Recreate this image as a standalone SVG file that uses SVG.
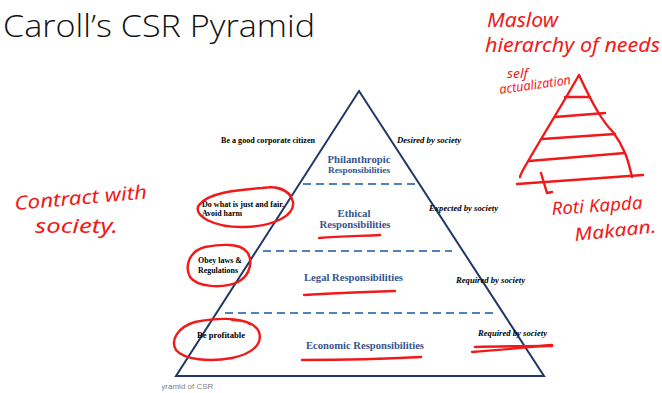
<svg xmlns="http://www.w3.org/2000/svg" width="662" height="393" viewBox="0 0 662 393">
<style>
.title{font-family:"Open Sans","Liberation Sans",sans-serif;font-weight:300;font-size:32px;fill:#111}
.sm{font-family:"Liberation Serif",serif;font-weight:bold;font-size:8px;fill:#000}
.it{font-family:"Liberation Serif",serif;font-weight:bold;font-style:italic;font-size:8px;fill:#000}
.lbl{font-family:"Liberation Serif",serif;font-weight:bold;fill:#35558f}
.cap{font-family:"Liberation Sans",sans-serif;font-size:8px;fill:#7f7f7f}
.pyr{fill:none;stroke:#1f3864;stroke-width:2}
.dash{stroke:#4f81bd;stroke-width:2;stroke-dasharray:8 5;fill:none}
.ink{fill:none;stroke:#f01a1a;stroke-width:2.4;stroke-linecap:round;stroke-linejoin:round}
.hw{font-family:"Noto Sans","DejaVu Sans",sans-serif;font-style:italic;fill:#f01a1a}
</style>
<defs><clipPath id="capclip"><rect x="162" y="378" width="200" height="15"/></clipPath></defs>
<rect width="662" height="393" fill="#fff"/>
<g id="title"><text class="title" x="3" y="37" textLength="312" lengthAdjust="spacingAndGlyphs">Caroll’s CSR Pyramid</text></g>
<g id="pyramid">
<path class="pyr" d="M359,91 L544,376 L176,376 Z"/>
</g>
<g id="connectors">
<line class="dash" x1="303" y1="184" x2="418" y2="184"/>
<line class="dash" x1="263" y1="251" x2="452" y2="251"/>
<line class="dash" x1="225" y1="313" x2="497" y2="313"/>
</g>
<g id="philanthropic">
<text class="lbl" x="359" y="163" font-size="11" text-anchor="middle" textLength="63" lengthAdjust="spacingAndGlyphs">Philanthropic</text>
<text class="lbl" x="359" y="173" font-size="9" text-anchor="middle" textLength="62" lengthAdjust="spacingAndGlyphs">Responsibilities</text>
<text class="sm" x="221" y="143" textLength="94" lengthAdjust="spacingAndGlyphs">Be a good corporate citizen</text>
<text class="it" x="397" y="143" textLength="64" lengthAdjust="spacingAndGlyphs">Desired by society</text>
</g>
<g id="ethical">
<text class="lbl" x="354" y="217" font-size="11" text-anchor="middle" textLength="33" lengthAdjust="spacingAndGlyphs">Ethical</text>
<text class="lbl" x="355" y="228" font-size="10.5" text-anchor="middle" textLength="71" lengthAdjust="spacingAndGlyphs">Responsibilities</text>
<text class="sm" x="202" y="207" textLength="82" lengthAdjust="spacingAndGlyphs">Do what is just and fair.</text>
<text class="sm" x="202" y="216" textLength="40" lengthAdjust="spacingAndGlyphs">Avoid harm</text>
<text class="it" x="429" y="211" textLength="69" lengthAdjust="spacingAndGlyphs">Expected by society</text>
</g>
<g id="legal">
<text class="lbl" x="304" y="281" font-size="11" textLength="99" lengthAdjust="spacingAndGlyphs">Legal Responsibilities</text>
<text class="sm" x="198" y="263" textLength="44" lengthAdjust="spacingAndGlyphs">Obey laws &amp;</text>
<text class="sm" x="198" y="273" textLength="40" lengthAdjust="spacingAndGlyphs">Regulations</text>
<text class="it" x="456" y="283" textLength="69" lengthAdjust="spacingAndGlyphs">Required by society</text>
</g>
<g id="economic">
<text class="lbl" x="306" y="349" font-size="11" textLength="118" lengthAdjust="spacingAndGlyphs">Economic Responsibilities</text>
<text class="sm" x="197" y="338" textLength="48" lengthAdjust="spacingAndGlyphs">Be profitable</text>
<text class="it" x="478" y="336" textLength="69" lengthAdjust="spacingAndGlyphs">Required by society</text>
</g>
<g id="caption"><text class="cap" x="156" y="389" clip-path="url(#capclip)">Pyramid of CSR</text></g>
<g id="annotations">
<path class="ink" d="M290,195 C284,188 276,186 262,188 C235,190 208,193 199,205 C192,216 215,228 245,227 C275,226 295,215 293,202 C291,193 282,188 270,187"/>
<path class="ink" d="M245,250 C238,244 222,244 205,247 C190,251 184,265 190,277 C197,287 222,289 238,282 C251,275 253,260 247,252 C243,247 236,245 228,245"/>
<path class="ink" d="M250,324 C240,317 215,318 195,322 C178,327 170,340 176,350 C184,360 210,362 232,358 C252,354 263,344 259,332 C256,324 245,320 232,320"/>
<path class="ink" d="M319,238 C340,236 362,236 380,235"/>
<path class="ink" d="M304,295 C335,293 365,292 395,291"/>
<path class="ink" d="M302,360 C340,360 385,359 421,357"/>
<path class="ink" d="M475,347 C500,346 530,346 552,346"/>
<path class="ink" d="M472,352 C500,350 530,347 552,345"/>
<path class="ink" d="M579,75 C562,105 540,140 523,170 C521,174 520,176 520,177 M579,75 C586,90 592,102 598,112 C604,122 609,128 613,132 C619,140 622,146 625,153 C628,160 630,168 632,177"/>
<path class="ink" d="M565,97 L590,97 M555,117 L605,113 M542,139 L615,134 M529,161 L625,153 M517,184 L643,175"/>
<path class="ink" d="M541,173 L547,193 L552,192"/>
<text class="hw" x="487" y="27" font-size="19" textLength="71" lengthAdjust="spacingAndGlyphs">Maslow</text>
<text class="hw" x="485" y="52" font-size="19" textLength="175" lengthAdjust="spacingAndGlyphs">hierarchy of needs</text>
<text class="hw" x="507" y="78" font-size="13" textLength="21" lengthAdjust="spacingAndGlyphs">self</text>
<text class="hw" x="500" y="94" font-size="13" textLength="72" lengthAdjust="spacingAndGlyphs" transform="rotate(-8 500 94)">actualization</text>
<text class="hw" x="552" y="215" font-size="18" textLength="91" lengthAdjust="spacingAndGlyphs" transform="rotate(-4 552 215)">Roti Kapda</text>
<text class="hw" x="575" y="241" font-size="18" textLength="82" lengthAdjust="spacingAndGlyphs" transform="rotate(-6 575 241)">Makaan.</text>
<text class="hw" x="15" y="210" font-size="19" textLength="133" lengthAdjust="spacingAndGlyphs" transform="rotate(-5 15 210)">Contract with</text>
<text class="hw" x="35" y="233" font-size="19" textLength="83" lengthAdjust="spacingAndGlyphs">society.</text>
</g>
</svg>
